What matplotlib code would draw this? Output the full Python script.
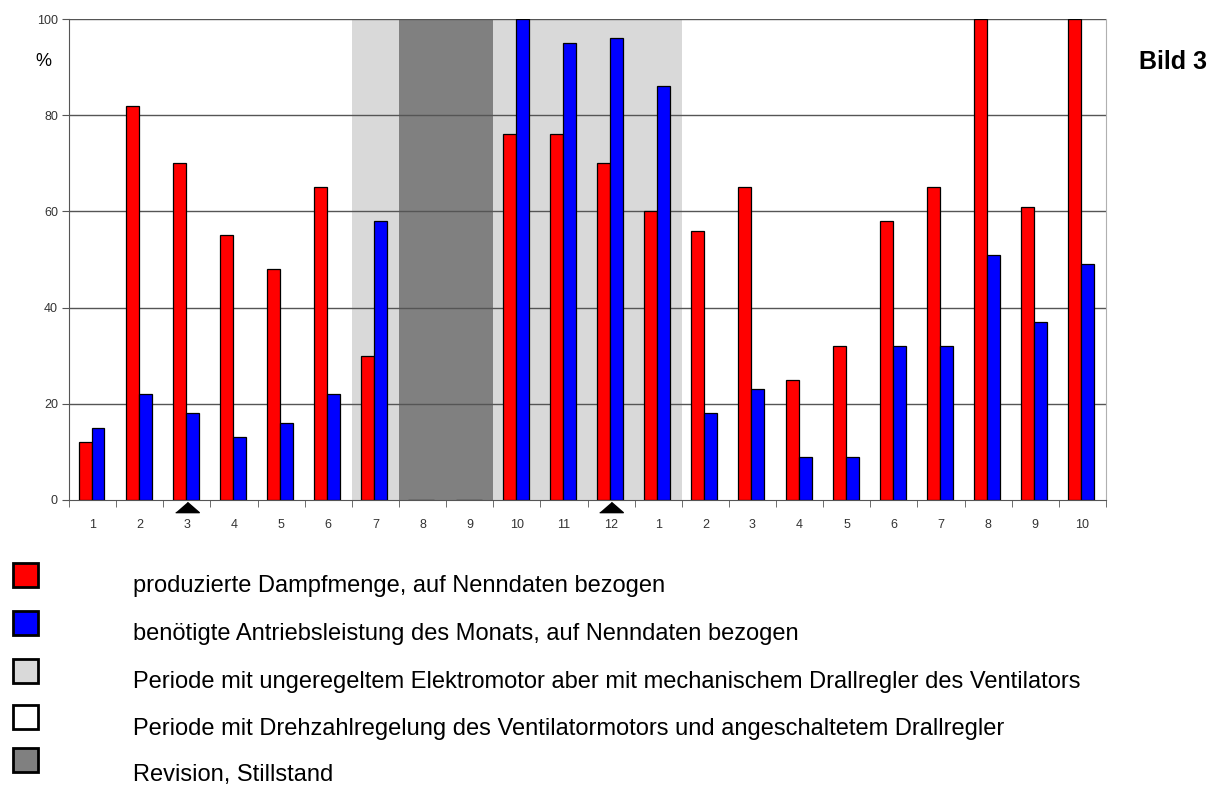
import numpy as np
import matplotlib.pyplot as plt
from matplotlib.patches import Rectangle

plt.rcParams['font.family'] = ['Liberation Sans', 'DejaVu Sans']

# Monate (Jahr 1: 1..12, Jahr 2: 1..10)
monate = ['1', '2', '3', '4', '5', '6', '7', '8', '9', '10', '11', '12',
          '1', '2', '3', '4', '5', '6', '7', '8', '9', '10']
dampf = [12, 82, 70, 55, 48, 65, 30, 0, 0, 76, 76, 70,
         60, 56, 65, 25, 32, 58, 65, 100, 61, 100]
antrieb = [15, 22, 18, 13, 16, 22, 58, 0, 0, 100, 95, 96,
           86, 18, 23, 9, 9, 32, 32, 51, 37, 49]
markiert = [2, 11]          # Monate mit Dreieck
periode_hell = (6, 12)      # ungeregelter Motor (Index von..bis)
periode_dunkel = (7, 8)     # Revision, Stillstand

legende = [
    ('#ff0000', 'produzierte Dampfmenge, auf Nenndaten bezogen'),
    ('#0000ff', 'benötigte Antriebsleistung des Monats, auf Nenndaten bezogen'),
    ('#d9d9d9', 'Periode mit ungeregeltem Elektromotor aber mit mechanischem Drallregler des Ventilators'),
    ('#ffffff', 'Periode mit Drehzahlregelung des Ventilatormotors und angeschaltetem Drallregler'),
    ('#808080', 'Revision, Stillstand'),
]

fig = plt.figure(figsize=(12.21, 8.08), dpi=100)
ax = fig.add_axes([69/1221, 1-500/808, (1106-69)/1221, 481/808])

x = np.arange(len(monate))
ax.axvspan(periode_hell[0]-0.5, periode_hell[1]+0.5, color='#d9d9d9', lw=0, zorder=0)
ax.axvspan(periode_dunkel[0]-0.5, periode_dunkel[1]+0.5, color='#808080', lw=0, zorder=0)

for yv in [20, 40, 60, 80, 100]:
    ax.axhline(yv, color='#555555', lw=1, zorder=1)

w = 0.275
ax.bar(x-0.16, dampf, w, color='#ff0000', edgecolor='black', lw=0.9, zorder=3)
ax.bar(x+0.115, antrieb, w, color='#0000ff', edgecolor='black', lw=0.9, zorder=3)

ax.set_xlim(-0.5, len(monate)-0.5)
ax.set_ylim(0, 100)
ax.set_xticks(x)
ax.set_xticklabels(monate)
ax.set_xticks(np.arange(-0.5, len(monate)), minor=True)
ax.tick_params(axis='x', which='major', length=0, pad=14, labelsize=9, colors='#333333')
ax.tick_params(axis='x', which='minor', length=5, color='#555555', direction='out')
ax.set_yticks([0, 20, 40, 60, 80, 100])
ax.tick_params(axis='y', length=5, color='#555555', labelsize=9, labelcolor='#333333', pad=3)

for s in ['left', 'bottom']:
    ax.spines[s].set_color('#555555')
ax.spines['right'].set_color('#b0b0b0')
ax.spines['top'].set_visible(False)

# Dreiecke unter der Achse
tri = [(-1.15, -0.5), (1.15, -0.5), (0, 0.5)]
ax.plot(markiert, [-0.015]*len(markiert), linestyle='none', marker=tri,
        markersize=17, color='black', transform=ax.get_xaxis_transform(),
        clip_on=False, zorder=5)

fig.text(43/1221, 1-61/808, '%', fontsize=13, ha='center', va='center')
fig.text(1139/1221, 1-62/808, 'Bild 3', fontsize=18, fontweight='bold', ha='left', va='center')

ys = [575, 623, 671, 717, 760]
yt = [586, 634, 682, 729, 775]
for (farbe, text), yq, ytx in zip(legende, ys, yt):
    fig.patches.append(Rectangle((13/1221, 1-(yq+12)/808), 25/1221, 24/808,
                                 transform=fig.transFigure, facecolor=farbe,
                                 edgecolor='black', lw=2))
    fig.text(133/1221, 1-ytx/808, text, fontsize=17, ha='left', va='center')

fig.savefig('out.png', dpi=100)
